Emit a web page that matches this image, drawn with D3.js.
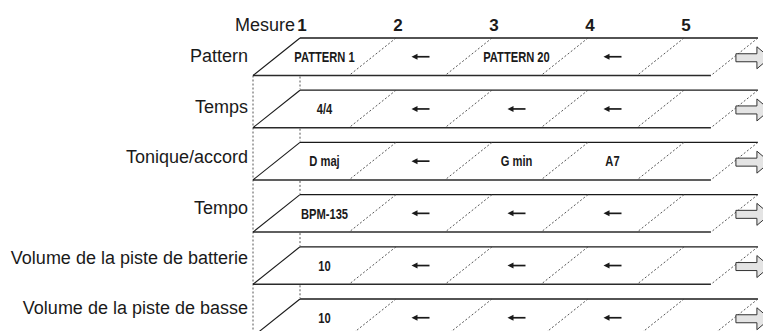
<!DOCTYPE html>
<html>
<head>
<meta charset="utf-8">
<script src="https://cdn.jsdelivr.net/npm/d3@7"></script>
<style>
  body { margin: 0; background: #fff; }
  svg { display: block; }
</style>
</head>
<body>
<div id="chart"></div>
<script>
// data
var measures = [1, 2, 3, 4, 5]
var rows = ["Pattern", "Temps", "Tonique/accord", "Tempo", "Volume de la piste de batterie", "Volume de la piste de basse"]
var patternCells = ["PATTERN 1", "←", "PATTERN 20", "←", ""]
var tempsCells = ["4/4", "←", "←", "←", ""]
var toniqueCells = ["D maj", "←", "G min", "A7", ""]
var tempoCells = ["BPM-135", "←", "←", "←", ""]
var batterieCells = ["10", "←", "←", "←", ""]
var basseCells = ["10", "←", "←", "←", ""]
var cells = [patternCells, tempsCells, toniqueCells, tempoCells, batterieCells, basseCells]

var width = 763
var height = 331
var skew = 47        // horizontal shift of the slanted edges
var rowH = 37.5
var lastPos = 5.77   // where the strip ends, in measure units

var svg = d3.select("#chart")
            .append("svg")
            .attr("width", width)
            .attr("height", height)
            .style("font-family", "'Liberation Sans', Arial, sans-serif")

var x = d3.scaleLinear().domain([1, 5]).range([300, 684])
var rowY = d3.scaleLinear().domain([0, rows.length - 1]).range([38, 299])
var labelY = d3.scaleLinear().domain([0, rows.length - 1]).range([56, 308])

var x0 = x(1)
var xEnd = x(lastPos)

// header
svg.append("text")
   .attr("x", x0 - 5)
   .attr("y", 31)
   .attr("text-anchor", "end")
   .attr("font-size", "18px")
   .attr("fill", "#1a1a1a")
   .text("Mesure")

svg.selectAll(".num")
   .data(measures)
   .enter().append("text")
   .attr("class", "num")
   .attr("x", function(d) { return x(d) + 2 })
   .attr("y", 31)
   .attr("text-anchor", "middle")
   .attr("font-size", "17px")
   .attr("font-weight", "bold")
   .attr("fill", "#1a1a1a")
   .text(function(d) { return d })

// dotted guide on the left
svg.append("line")
   .attr("x1", x0 - skew).attr("x2", x0 - skew)
   .attr("y1", rowY(0) + rowH).attr("y2", height)
   .attr("stroke", "#555")
   .attr("stroke-width", 1)
   .attr("stroke-dasharray", "2,2")

// short dotted links between rows
svg.selectAll(".link")
   .data(rows.slice(1))
   .enter().append("line")
   .attr("class", "link")
   .attr("x1", x0).attr("x2", x0)
   .attr("y1", function(d, i) { return rowY(i) + rowH + 1 })
   .attr("y2", function(d, i) { return rowY(i + 1) - 1 })
   .attr("stroke", "#555")
   .attr("stroke-width", 1)
   .attr("stroke-dasharray", "2,2")

var row = svg.selectAll(".row")
             .data(rows)
             .enter().append("g")
             .attr("class", "row")

// row labels
row.append("text")
   .attr("x", x0 - skew - 5)
   .attr("y", function(d, i) { return labelY(i) })
   .attr("dy", "0.36em")
   .attr("text-anchor", "end")
   .attr("font-size", "18px")
   .attr("fill", "#1a1a1a")
   .text(function(d) { return d })

// white strip
row.append("path")
   .attr("d", function(d, i) {
     var t = rowY(i), b = t + rowH
     return "M" + x0 + "," + t + "L" + xEnd + "," + t + "L" + (xEnd - skew) + "," + b + "L" + (x0 - skew) + "," + b + "Z"
   })
   .attr("fill", "#fff")

// top edge
row.append("line")
   .attr("x1", x0).attr("x2", xEnd)
   .attr("y1", function(d, i) { return rowY(i) })
   .attr("y2", function(d, i) { return rowY(i) })
   .attr("stroke", "#1a1a1a")
   .attr("stroke-width", 1.3)

// bottom edge
row.append("line")
   .attr("x1", x0 - skew).attr("x2", xEnd - skew)
   .attr("y1", function(d, i) { return rowY(i) + rowH })
   .attr("y2", function(d, i) { return rowY(i) + rowH })
   .attr("stroke", "#2a2a2a")
   .attr("stroke-width", 1.5)

// slanted left edge
row.append("line")
   .attr("x1", x0 - skew).attr("x2", x0)
   .attr("y1", function(d, i) { return rowY(i) + rowH })
   .attr("y2", function(d, i) { return rowY(i) })
   .attr("stroke", "#1a1a1a")
   .attr("stroke-width", 1.1)

// dashed measure dividers
row.selectAll(".div")
   .data(function(d, i) {
     return measures.slice(1).concat([lastPos]).map(function(m) { return { m: m, i: i } })
   })
   .enter().append("line")
   .attr("class", "div")
   .attr("x1", function(d) { return x(d.m) })
   .attr("x2", function(d) { return x(d.m) - skew })
   .attr("y1", function(d) { return rowY(d.i) })
   .attr("y2", function(d) { return rowY(d.i) + rowH })
   .attr("stroke", "#444")
   .attr("stroke-width", 0.9)
   .attr("stroke-dasharray", "2,2")

// cell contents
function cellX(m) { return (x(m) + x(m + 1)) / 2 - skew / 2 }

row.each(function(d, i) {
  var g = d3.select(this)
  var cy = rowY(i) + rowH / 2
  cells[i].forEach(function(c, j) {
    var cx = cellX(measures[j])
    if (c === "←") {
      g.append("line")
       .attr("x1", cx - 5).attr("x2", cx + 9)
       .attr("y1", cy).attr("y2", cy)
       .attr("stroke", "#1a1a1a")
       .attr("stroke-width", 1.7)
      g.append("path")
       .attr("d", "M" + (cx - 9) + "," + cy + "L" + (cx - 3) + "," + (cy - 3) + "L" + (cx - 3) + "," + (cy + 3) + "Z")
       .attr("fill", "#1a1a1a")
    } else if (c !== "") {
      g.append("text")
       .attr("transform", "translate(" + cx + "," + cy + ") scale(0.77,1)")
       .attr("dy", "0.36em")
       .attr("text-anchor", "middle")
       .attr("font-size", "14.5px")
       .attr("font-weight", "bold")
       .attr("fill", "#1a1a1a")
       .text(c)
    }
  })

  // grey block arrow at the end of the strip
  var ay = cy + 1
  var ax = xEnd - 22
  g.append("path")
   .attr("d", "M" + ax + "," + (ay - 4) + "L" + (ax + 21) + "," + (ay - 4) + "L" + (ax + 21) + "," + (ay - 11) +
              "L" + (ax + 34) + "," + ay + "L" + (ax + 21) + "," + (ay + 11) + "L" + (ax + 21) + "," + (ay + 4) +
              "L" + ax + "," + (ay + 4) + "Z")
   .attr("fill", "#e4e4e4")
   .attr("stroke", "#333")
   .attr("stroke-width", 1)
})
</script>
</body>
</html>
